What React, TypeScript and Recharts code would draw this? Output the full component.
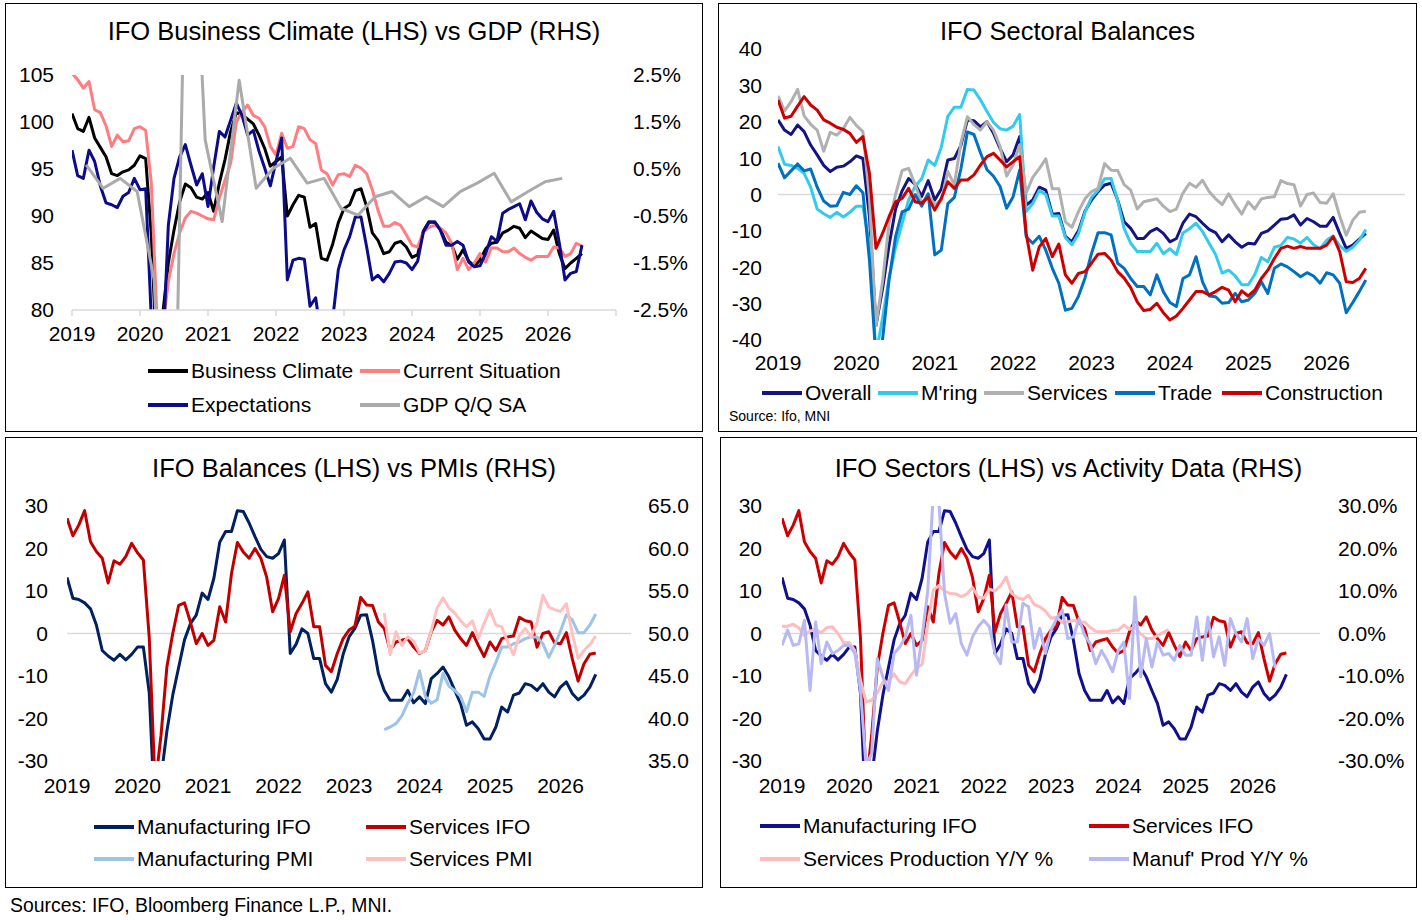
import React from "react";
import { LineChart, Line, XAxis, YAxis, ReferenceLine } from "recharts";

// ---- data (monthly from Jan 2019, index 0 = 2019-01) ----

const bizClimate = [
  100.9, 99.3, 99.0, 100.5, 98.3, 97.3, 96.3, 94.5, 94.3, 94.7,
  94.9, 95.4, 96.4, 96.1, 88.0, 74.0, 79.5, 85.0, 88.5, 91.5,
  93.4, 93.0, 92.0, 91.8, 92.5, 90.5, 93.5, 96.0, 99.0, 101.0,
  100.8, 100.3, 99.8, 98.6, 97.2, 95.3, 95.8, 96.3, 90.0, 91.2,
  92.2, 92.0, 88.8, 89.2, 85.5, 85.3, 87.0, 89.3, 90.8, 91.2,
  92.7, 92.9, 91.0, 88.2, 87.4, 86.0, 86.2, 87.1, 87.3, 86.7,
  85.6, 85.9, 88.4, 89.4, 89.3, 88.6, 87.2, 86.9, 85.4, 86.4,
  85.2, 84.7, 85.3, 86.5, 87.1, 87.2, 88.2, 88.5, 88.9, 88.7,
  87.7, 88.4, 88.0, 87.6, 87.5, 88.5, 86.0, 84.4, 85.0, 85.5, 86.0,
];

const currentSituation = [
  105.2, 104.5, 103.6, 104.3, 101.3, 101.0, 99.6, 97.4, 98.6, 97.9,
  98.0, 99.3, 99.5, 99.1, 93.5, 79.0, 78.0, 83.0, 86.0, 88.2,
  89.8, 90.5, 90.3, 90.0, 89.7, 89.6, 91.9, 93.8, 95.6, 100.0,
  101.1, 101.8, 100.7, 100.4, 99.5, 97.4, 96.5, 98.8, 97.2, 97.4,
  99.5, 99.3, 98.1, 97.7, 94.9, 94.5, 93.3, 94.4, 94.5, 94.2,
  95.4, 95.1, 94.5, 92.8, 90.6, 88.9, 88.9, 89.3, 89.0, 88.0,
  86.9, 86.7, 88.3, 88.8, 89.0, 88.7, 88.2, 87.1, 84.3, 85.5,
  84.3, 85.0, 86.0, 85.1, 86.6, 86.6, 86.2, 86.2, 86.6, 86.0,
  85.6, 85.3, 85.7, 85.7, 85.7, 86.7, 86.6, 85.7, 86.0, 87.1, 86.8,
];

const expectations = [
  97.0, 94.3, 94.0, 97.0, 95.8, 93.2, 91.4, 91.2, 90.9, 92.1,
  92.5, 94.0, 92.8, 92.9, 79.0, 69.0, 75.0, 89.0, 94.0, 96.3,
  97.6, 95.4, 93.3, 94.5, 91.0, 95.2, 99.0, 98.4, 100.2, 102.0,
  100.7, 98.6, 99.1, 96.9, 95.1, 93.2, 95.8, 98.3, 83.2, 85.3,
  85.5, 85.4, 80.4, 81.3, 77.0, 75.5, 79.0, 84.3, 86.4, 87.8,
  89.9, 89.9, 86.7, 83.2, 83.7, 83.0, 83.9, 85.1, 85.2, 85.0,
  84.3, 85.2, 88.3, 89.3, 89.4, 88.5, 86.9, 86.9, 87.3, 86.9,
  85.1, 84.6, 84.7, 86.0, 87.8, 87.3, 90.3, 90.7, 91.0, 91.3,
  89.6, 91.6, 90.4, 89.7, 89.4, 90.5, 87.1, 83.2, 83.9, 84.1, 86.9,
];

// quarterly GDP q/q %, plotted mid-quarter
const gdpQoQ = [
  0.59, 0.09, 0.3, 0.02, -1.86, -9.7, 8.7, 1.12, -0.62, 2.39,
  0.09, 0.51, 0.73, 0.2, 0.3, -0.34, -0.48, -0.09, 0.02, -0.3,
  -0.09, -0.3, 0.02, 0.2, 0.41, -0.2, 0.02, 0.23, 0.3,
];

const overall = [
  20.5, 17.7, 16.5, 19.1, 17.3, 13.6, 10.9, 8.0, 6.3, 7.5,
  7.8, 9.0, 10.6, 9.9, -6.0, -36.0, -26.0, -14.0, -4.0, 1.0,
  4.4, 2.8, -0.5, 3.8, -1.5, 1.5, 9.5, 9.9, 13.5, 20.5,
  20.3, 18.6, 20.0, 16.8, 12.7, 9.0, 10.9, 15.9, -3.0, -1.5,
  2.0, 1.2, -5.5, -5.2, -11.5, -13.0, -10.0, -4.6, -1.5, 0.8,
  2.6, 3.1, -1.5, -7.5, -9.3, -12.1, -12.1, -10.2, -9.3, -10.7,
  -13.0, -12.1, -7.9, -5.4, -6.1, -7.9, -9.6, -10.5, -13.0, -11.1,
  -13.0, -14.5, -13.4, -13.6, -10.7, -10.0, -8.4, -6.8, -6.6, -5.6,
  -8.4, -6.6, -7.5, -8.7, -8.7, -6.3, -10.7, -14.8, -13.9, -12.3, -10.7,
];

const mRing = [
  13.2, 8.3, 8.0, 7.2, 5.8, 2.0, -4.0, -5.3, -6.3, -4.9,
  -6.2, -4.9, -3.2, -3.2, -14.0, -44.0, -34.0, -23.0, -14.5, -8.0,
  -1.5, 2.3, 4.3, 9.5, 8.0, 13.0, 21.5, 24.0, 24.0, 28.9,
  28.7, 26.0, 22.8, 19.8, 18.1, 17.7, 18.8, 22.0, -4.7, -2.5,
  1.1, 0.0, -5.9, -5.9, -11.8, -13.8, -10.8, -4.9, -0.8, 1.2,
  4.3, 4.4, -1.6, -9.4, -13.4, -15.7, -15.7, -15.7, -13.4, -16.3,
  -14.9, -16.5, -10.6, -9.4, -7.9, -10.2, -13.4, -16.5, -21.6, -20.8,
  -22.4, -24.8, -24.8, -22.0, -17.3, -18.5, -14.5, -14.0, -11.8, -12.2,
  -13.4, -11.8, -13.8, -14.9, -12.6, -11.4, -14.1, -15.6, -14.5, -12.6, -9.6,
];

const services = [
  27.1, 23.0, 25.5, 28.9, 21.6, 19.3, 17.7, 11.9, 17.1, 16.3,
  18.1, 21.2, 19.0, 17.3, -1.0, -36.0, -24.0, -7.9, 0.0, 6.6,
  7.2, 2.7, -2.4, 0.0, -2.8, -1.6, 6.3, 2.7, 14.1, 21.4,
  19.2, 17.7, 20.0, 17.7, 13.2, 5.1, 8.2, 13.7, 0.4, 4.7,
  7.1, 9.8, 1.6, 1.6, -7.5, -9.0, -4.7, -1.2, 0.8, 1.7,
  8.5, 6.7, 6.6, 2.7, 1.2, -4.0, -2.0, -1.6, -1.2, -3.2,
  -4.7, -4.0, 0.4, 3.1, 2.0, 3.9, 0.8, -1.2, -2.8, 0.2,
  -2.8, -5.4, -2.0, -4.0, -1.2, -0.8, -0.6, 3.8, 3.0, 2.7,
  -3.2, 0.0, 0.4, -2.2, -2.4, 0.2, -5.9, -11.2, -7.1, -4.9, -4.6,
];

const trade = [
  8.6, 4.6, 6.5, 8.4, 6.5, 7.0, 2.0, -1.8, -3.2, -3.1,
  0.6, 0.0, 2.4, 0.5, -18.0, -45.0, -40.0, -23.5, -11.6, -4.8,
  -4.0, 0.0, -3.2, 0.2, -16.6, -15.3, -2.5, -0.8, 7.0, 17.2,
  16.5, 11.5, 6.8, 5.0, 2.2, -3.8, -0.6, 6.7, -11.6, -13.4,
  -11.5, -15.3, -20.3, -24.4, -31.8, -31.3, -28.0, -23.0, -16.2, -10.5,
  -10.5, -11.1, -18.9, -20.3, -23.1, -25.3, -25.3, -27.6, -22.1, -26.7,
  -29.7, -30.8, -23.1, -22.1, -17.1, -24.0, -27.9, -28.1, -29.9, -29.7,
  -27.2, -29.5, -29.0, -27.2, -24.0, -27.2, -20.3, -19.1, -19.9, -21.2,
  -22.6, -21.5, -22.4, -24.4, -21.5, -22.1, -24.4, -32.5, -29.7, -26.7, -23.5,
];

const construction = [
  26.0, 21.0, 21.5, 24.3, 26.9, 24.6, 23.2, 20.5, 19.6, 18.5,
  17.9, 16.8, 14.3, 15.9, 5.8, -14.8, -10.7, -6.1, -2.0, -1.1,
  1.7, -2.0, -2.4, -0.8, -4.3, -1.1, 3.5, 1.7, 4.0, 4.0,
  5.4, 8.1, 10.4, 11.3, 9.5, 7.6, 9.0, 10.4, -10.7, -20.8,
  -14.4, -12.1, -17.1, -13.6, -22.1, -24.4, -21.7, -21.2, -18.9, -16.4,
  -16.2, -18.0, -21.2, -23.0, -25.6, -29.5, -31.9, -31.6, -29.9, -32.5,
  -34.5, -33.4, -31.3, -29.0, -26.7, -26.7, -27.6, -26.7, -25.5, -26.3,
  -29.5, -26.5, -27.9, -26.3, -23.1, -20.8, -17.6, -14.8, -14.2, -14.8,
  -14.3, -14.8, -14.8, -14.8, -13.9, -11.6, -15.7, -24.0, -24.2, -23.1, -20.3,
];

// PMIs start at index 54 (mid-2023)
const PMI_START = 54;
const mfgPmi = [
  38.7, 39.0, 39.4, 40.3, 41.8, 43.0, 45.6, 42.6, 41.8, 42.2,
  45.3, 43.8, 43.3, 42.6, 40.8, 43.1, 43.1, 42.6, 45.0, 46.6,
  48.4, 48.4, 48.8, 49.0, 49.4, 49.6, 49.6, 48.8, 47.2, 48.6,
  50.3, 52.2, 51.6, 50.1, 50.1, 51.0, 52.3,
];
const svcPmi = [
  52.4, 47.5, 50.2, 48.6, 49.6, 49.1, 47.7, 48.0, 50.3, 53.0,
  54.2, 53.0, 52.4, 51.5, 50.8, 51.5, 49.4, 51.2, 52.8, 51.0,
  50.8, 49.0, 47.5, 49.8, 50.6, 49.6, 51.3, 54.5, 53.1, 52.8,
  52.6, 53.5, 50.0, 47.1, 48.0, 48.7, 49.7,
];

const svcProd = [
  1.7, 1.7, 2.2, 1.3, -0.5, 0.6, 0.9, 0.2, 1.4, 1.6,
  0.0, -2.2, -2.1, -4.0, -11.0, -16.1, -15.7, -14.0, -11.4, -11.4,
  -9.5, -11.4, -11.8, -9.8, -8.2, -7.3, 2.0, 10.2, 11.3, 10.0,
  9.4, 9.3, 8.7, 9.3, 10.8, 8.6, 8.3, 10.4, 10.0, 11.2,
  13.3, 9.4, 8.4, 8.0, 9.0, 6.8, 6.3, 5.3, 3.6, 3.8,
  2.6, 2.7, 3.1, 2.7, 2.7, 1.4, 0.5, 0.4, 0.4, 0.7,
  0.8, 2.0, 1.0, 1.5, -0.1, -1.2, -1.2, -0.5, 0.2, 0.9,
];

const manufProd = [
  -2.8, 0.8, -2.8, -2.4, 3.1, -13.4, 2.7, -7.1, -2.0, -4.7,
  -4.0, -2.8, -2.8, -4.7, -13.4, -31.0, -28.3, -5.9, -10.2, -13.4,
  -4.7, -3.2, -0.8, 4.3, -9.8, -0.8, 10.0, 33.0, 31.0, 9.4,
  2.4, 4.7, -2.4, -5.1, -0.8, 1.6, 3.1, 1.6, -4.7, -7.1,
  6.7, -2.0, -2.0, 7.1, 6.3, -3.5, 1.2, -4.7, 0.8, 3.5,
  5.5, -1.2, -0.8, 3.5, -0.4, -2.4, -7.1, -4.0, -6.3, -9.0,
  -4.0, -2.0, -15.3, 8.6, -10.2, -1.2, -7.9, -2.0, -5.1, -4.7,
  -6.3, -2.8, -5.1, -5.1, 3.9, -6.3, 3.9, -5.5, -0.8, -7.5,
  3.5, 0.0, -2.0, 3.5, -5.9, -1.2, -2.8, 0.0, -8.2,
];

const yearTicks = [0, 12, 24, 36, 48, 60, 72, 84, 96];

// ---- rows ----

const rows = Array.from({ length: 91 }, (_, i) => ({
  x: i,
  bc: bizClimate[i],
  cs: currentSituation[i],
  ex: expectations[i],
  ov: overall[i],
  mr: mRing[i],
  sv: services[i],
  tr: trade[i],
  co: construction[i],
  mp: i >= PMI_START ? mfgPmi[i - PMI_START] : undefined,
  sp: i >= PMI_START ? svcPmi[i - PMI_START] : undefined,
  spy: svcProd[i],
  mpy: manufProd[i],
}));

const gdpRows = gdpQoQ.map((v, k) => ({ x: 2.5 + 3 * k, gdp: v }));

// ---- styling helpers ----

const FONT = '"Liberation Sans", Arial, sans-serif';
const tick = { fontSize: 21, fill: "#000", fontFamily: FONT };
const yearLabel = (v: number) => (v >= 96 ? "" : String(2019 + v / 12));
const pct1 = (v: number) => `${v.toFixed(1)}%`;

function xAxis(tickMargin: number, showLine: boolean) {
  return (
    <XAxis
      dataKey="x"
      type="number"
      domain={[0, 96]}
      ticks={yearTicks}
      interval={0}
      tickFormatter={yearLabel}
      tick={tick}
      tickSize={6}
      tickMargin={tickMargin}
      axisLine={showLine ? { stroke: "#d9d9d9", strokeWidth: 1.5 } : false}
      tickLine={showLine ? { stroke: "#d9d9d9", strokeWidth: 1.5 } : false}
      height={30}
      allowDataOverflow
    />
  );
}

function series(key: string, color: string, axis: string, data?: object[]) {
  return (
    <Line
      key={key}
      data={data}
      dataKey={key}
      yAxisId={axis}
      type="linear"
      stroke={color}
      strokeWidth={3}
      strokeLinejoin="round"
      dot={false}
      activeDot={false}
      isAnimationActive={false}
    />
  );
}

interface Box {
  left: number;
  top: number;
  width: number;
  height: number;
}

function Frame({ box, title, titleY, children }: { box: Box; title: string; titleY: number; children: React.ReactNode }) {
  return (
    <>
      <div
        style={{
          position: "absolute",
          left: box.left,
          top: box.top,
          width: box.width,
          height: box.height,
          border: "1.5px solid #000",
          boxSizing: "border-box",
        }}
      />
      <div style={{ position: "absolute", left: box.left, top: box.top }}>{children}</div>
      <div
        style={{
          position: "absolute",
          left: box.left,
          width: box.width,
          top: titleY - 15,
          height: 30,
          lineHeight: "30px",
          textAlign: "center",
          fontSize: 25.5,
          fontFamily: FONT,
        }}
      >
        {title}
      </div>
    </>
  );
}

function Key({ x, y, color, label }: { x: number; y: number; color: string; label: string }) {
  return (
    <div style={{ position: "absolute", left: x, top: y - 13, height: 26, display: "flex", alignItems: "center", whiteSpace: "nowrap" }}>
      <div style={{ width: 40, height: 4, background: color }} />
      <span style={{ marginLeft: 3, fontSize: 21, fontFamily: FONT }}>{label}</span>
    </div>
  );
}

const p1: Box = { left: 5, top: 3, width: 698, height: 429 };
const p2: Box = { left: 718, top: 3, width: 699, height: 429 };
const p3: Box = { left: 5, top: 437, width: 698, height: 451 };
const p4: Box = { left: 720, top: 437, width: 697, height: 451 };

export default function App() {
  return (
    <div style={{ position: "relative", width: 1422, height: 920, background: "#fff", fontFamily: FONT }}>
      <style>{`body{margin:0;background:#fff}`}</style>

      <Frame box={p1} title="IFO Business Climate (LHS) vs GDP (RHS)" titleY={31}>
        <LineChart width={p1.width} height={p1.height} data={rows} margin={{ top: 72, right: 0, left: 0, bottom: 92 }}>
          {xAxis(10, true)}
          <YAxis yAxisId="l" domain={[80, 105]} ticks={[80, 85, 90, 95, 100, 105]} interval={0} allowDataOverflow width={67} tick={tick} tickLine={false} axisLine={false} tickSize={6} tickMargin={12} />
          <YAxis yAxisId="r" orientation="right" domain={[-2.5, 2.5]} ticks={[-2.5, -1.5, -0.5, 0.5, 1.5, 2.5]} interval={0} allowDataOverflow width={87} tick={tick} tickFormatter={pct1} tickLine={false} axisLine={false} tickSize={6} tickMargin={11} />
          {series("bc", "#000000", "l")}
          {series("cs", "#ff7c80", "l")}
          {series("ex", "#0c0c8a", "l")}
          {series("gdp", "#aaaaaa", "r", gdpRows)}
        </LineChart>
      </Frame>
      <Key x={148} y={371} color="#000000" label="Business Climate" />
      <Key x={360} y={371} color="#ff7c80" label="Current Situation" />
      <Key x={148} y={405} color="#0c0c8a" label="Expectations" />
      <Key x={360} y={405} color="#aaaaaa" label="GDP Q/Q SA" />

      <Frame box={p2} title="IFO Sectoral Balances" titleY={31}>
        <LineChart width={p2.width} height={p2.height} data={rows} margin={{ top: 46, right: 12, left: 0, bottom: 62 }}>
          {xAxis(9.5, false)}
          <YAxis yAxisId="l" domain={[-40, 40]} ticks={[-40, -30, -20, -10, 0, 10, 20, 30, 40]} interval={0} allowDataOverflow width={60} tick={tick} tickLine={false} axisLine={false} tickSize={6} tickMargin={10} />
          <ReferenceLine yAxisId="l" y={0} stroke="#d9d9d9" strokeWidth={1.5} />
          {series("ov", "#141482", "l")}
          {series("mr", "#33cbec", "l")}
          {series("sv", "#b0b0b0", "l")}
          {series("tr", "#0070c0", "l")}
          {series("co", "#cc0000", "l")}
        </LineChart>
      </Frame>
      <Key x={762} y={393} color="#141482" label="Overall" />
      <Key x={878} y={393} color="#33cbec" label="M'ring" />
      <Key x={984} y={393} color="#b0b0b0" label="Services" />
      <Key x={1115} y={393} color="#0070c0" label="Trade" />
      <Key x={1222} y={393} color="#cc0000" label="Construction" />
      <div style={{ position: "absolute", left: 729, top: 408, fontSize: 14, fontFamily: FONT, whiteSpace: "nowrap" }}>
        Source: Ifo, MNI
      </div>

      <Frame box={p3} title="IFO Balances (LHS) vs PMIs (RHS)" titleY={468}>
        <LineChart width={p3.width} height={p3.height} data={rows} margin={{ top: 69, right: 0, left: 0, bottom: 97 }}>
          {xAxis(11.5, false)}
          <YAxis yAxisId="l" domain={[-30, 30]} ticks={[-30, -20, -10, 0, 10, 20, 30]} interval={0} allowDataOverflow width={62} tick={tick} tickLine={false} axisLine={false} tickSize={6} tickMargin={13} />
          <YAxis yAxisId="r" orientation="right" domain={[35, 65]} ticks={[35, 40, 45, 50, 55, 60, 65]} interval={0} allowDataOverflow width={72} tick={tick} tickFormatter={(v: number) => v.toFixed(1)} tickLine={false} axisLine={false} tickSize={6} tickMargin={11} />
          <ReferenceLine yAxisId="l" y={0} stroke="#d9d9d9" strokeWidth={1.5} />
          {series("mr", "#002060", "l")}
          {series("sv", "#c00000", "l")}
          {series("mp", "#9dc3e6", "r")}
          {series("sp", "#ffc0c0", "r")}
        </LineChart>
      </Frame>
      <Key x={94} y={827} color="#002060" label="Manufacturing IFO" />
      <Key x={366} y={827} color="#c00000" label="Services IFO" />
      <Key x={94} y={859} color="#9dc3e6" label="Manufacturing PMI" />
      <Key x={366} y={859} color="#ffc0c0" label="Services PMI" />

      <Frame box={p4} title="IFO Sectors (LHS) vs Activity Data (RHS)" titleY={468}>
        <LineChart width={p4.width} height={p4.height} data={rows} margin={{ top: 69, right: 0, left: 0, bottom: 97 }}>
          {xAxis(11.5, false)}
          <YAxis yAxisId="l" domain={[-30, 30]} ticks={[-30, -20, -10, 0, 10, 20, 30]} interval={0} allowDataOverflow width={62} tick={tick} tickLine={false} axisLine={false} tickSize={6} tickMargin={14} />
          <YAxis yAxisId="r" orientation="right" domain={[-30, 30]} ticks={[-30, -20, -10, 0, 10, 20, 30]} interval={0} allowDataOverflow width={97} tick={tick} tickFormatter={pct1} tickLine={false} axisLine={false} tickSize={6} tickMargin={12} />
          <ReferenceLine yAxisId="l" y={0} stroke="#d9d9d9" strokeWidth={1.5} />
          {series("mr", "#10108c", "l")}
          {series("sv", "#cc0000", "l")}
          {series("spy", "#ffbcbc", "r")}
          {series("mpy", "#b8b8f2", "r")}
        </LineChart>
      </Frame>
      <Key x={760} y={826} color="#10108c" label="Manufacturing IFO" />
      <Key x={1089} y={826} color="#cc0000" label="Services IFO" />
      <Key x={760} y={859} color="#ffbcbc" label="Services Production Y/Y %" />
      <Key x={1089} y={859} color="#b8b8f2" label="Manuf' Prod Y/Y %" />

      <div style={{ position: "absolute", left: 10, top: 894, fontSize: 19.4, fontFamily: FONT, whiteSpace: "nowrap" }}>
        Sources: IFO, Bloomberg Finance L.P., MNI.
      </div>
    </div>
  );
}
